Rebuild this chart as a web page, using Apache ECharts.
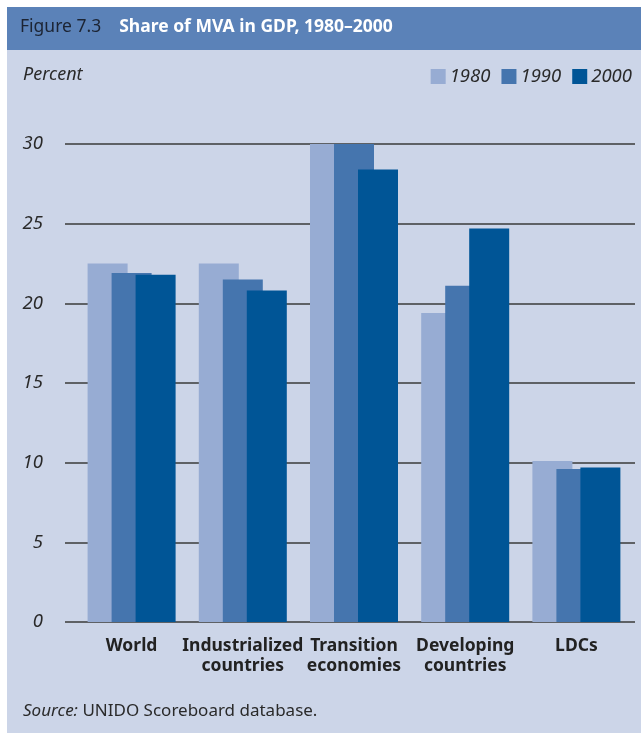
<!DOCTYPE html>
<html>
<head>
<meta charset="utf-8">
<script src="https://cdn.jsdelivr.net/npm/echarts@6/dist/echarts.min.js"></script>
<style>
  html, body { margin: 0; padding: 0; background: #fff; }
  #chart { width: 641px; height: 733px; }
</style>
</head>
<body>
<div id="chart"></div>
<script>
const categories = ['World', 'Industrialized\ncountries', 'Transition\neconomies', 'Developing\ncountries', 'LDCs']
const years = ['1980', '1990', '2000']
const values1980 = [22.5, 22.5, 30.0, 19.4, 10.1]
const values1990 = [21.9, 21.5, 30.0, 21.1, 9.6]
const values2000 = [21.8, 20.8, 28.4, 24.7, 9.7]
const yTicks = [0, 5, 10, 15, 20, 25, 30]

const colors = ['#97acd3', '#4575ae', '#005596']
const font = '"Noto Sans", "Open Sans", sans-serif'

const chart = echarts.init(document.getElementById('chart'))

const barSeries = [values1980, values1990, values2000].map((vals, i) => ({
  name: years[i],
  type: 'bar',
  xAxisIndex: 1,
  yAxisIndex: 1,
  data: vals,
  barWidth: 40,
  barGap: '-40%',
  itemStyle: { color: colors[i] },
  z: 3 + i
}))

const option = {
  backgroundColor: '#fff',
  animation: false,
  textStyle: { fontFamily: font },
  graphic: [
    { type: 'rect', shape: { x: 7, y: 7, width: 634, height: 726 }, style: { fill: '#ccd5e8' }, z: -10 },
    { type: 'rect', shape: { x: 7, y: 7, width: 634, height: 43 }, style: { fill: '#5b82b8' }, z: -9 },
    {
      type: 'text', left: 20, top: 18,
      style: {
        text: '{a|Figure 7.3}{b|Share of MVA in GDP, 1980–2000}',
        rich: {
          a: { fontSize: 17.5, fill: '#1c2433', fontFamily: font, padding: [0, 18, 0, 0] },
          b: { fontSize: 17.5, fill: '#fff', fontWeight: 'bold', fontFamily: font }
        }
      }
    },
    {
      type: 'text', left: 23, top: 66,
      style: { text: 'Percent', fontSize: 18, fontStyle: 'italic', fill: '#2a2a2a', fontFamily: font }
    },
    {
      type: 'text', left: 23, top: 703,
      style: {
        text: '{i|Source:} UNIDO Scoreboard database.',
        fontSize: 17, fill: '#2a2a2a', fontFamily: font,
        rich: { i: { fontStyle: 'italic', fontSize: 17, fill: '#2a2a2a', fontFamily: font } }
      }
    }
  ],
  legend: {
    right: 4,
    top: 62,
    itemWidth: 15,
    itemHeight: 15,
    itemGap: 11,
    icon: 'rect',
    data: years,
    textStyle: { fontSize: 18.5, fontStyle: 'italic', color: '#2a2a2a', padding: [0, 0, 0, -1] }
  },
  grid: [
    { left: 65, right: 6, top: 144, bottom: 111 },
    { left: 76, right: 9, top: 144, bottom: 111 }
  ],
  xAxis: [
    { gridIndex: 0, type: 'value', show: false, min: 0, max: 1 },
    {
      gridIndex: 1,
      type: 'category',
      data: categories,
      axisLine: { show: false },
      axisTick: { show: false },
      axisLabel: {
        margin: 14,
        fontSize: 17.5,
        fontWeight: 'bold',
        color: '#222',
        lineHeight: 20,
        interval: 0
      }
    }
  ],
  yAxis: [
    {
      gridIndex: 0,
      type: 'value',
      min: 0,
      max: 30,
      interval: 5,
      axisLine: { show: false },
      axisTick: { show: false },
      axisLabel: {
        margin: 22,
        fontSize: 18.5,
        fontStyle: 'italic',
        color: '#2a2a2a',
        formatter: v => (yTicks.includes(v) ? String(v) : '')
      },
      splitLine: { lineStyle: { color: '#3a3a3a', width: 1.5 } }
    },
    { gridIndex: 1, type: 'value', min: 0, max: 30, show: false, splitLine: { show: false } }
  ],
  series: barSeries
}

chart.setOption(option)
window.addEventListener('resize', () => chart.resize())
</script>
</body>
</html>
